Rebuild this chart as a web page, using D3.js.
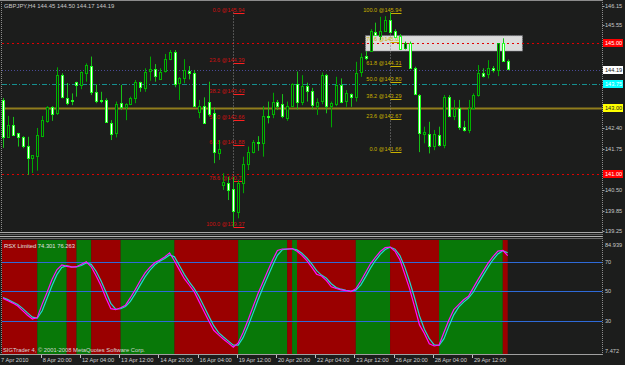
<!DOCTYPE html>
<html>
<head>
<meta charset="utf-8">
<script src="https://d3js.org/d3.v7.min.js"></script>
<style>
    body { margin: 0; background: #1c1d1c; }
    svg { display: block; font-family: "Liberation Sans", Arial, sans-serif; }
</style>
</head>
<body>
<svg id="canvas"></svg>
<script>
var w = 625
var h = 365

// ########## Data ##########

var symbol = "GBPJPY,H4";

var open = [143.26,142.13,142.49,142.24,142.11,141.85,141.47,141.54,142.15,142.59,
    143.03,142.85,144.02,143.33,143.25,143.80,143.72,144.10,144.30,143.51,
    143.27,143.26,142.56,142.24,143.16,143.05,143.13,143.31,143.80,143.65,
    144.13,144.20,143.92,144.13,144.54,144.74,143.77,143.92,144.16,144.10,
    142.89,143.07,143.21,142.85,141.62,140.65,140.72,140.52,139.83,140.72,
    141.29,141.67,141.96,141.95,142.78,142.85,143.21,143.13,142.70,143.07,
    143.75,143.21,143.69,143.54,143.10,143.21,144.02,143.07,143.13,143.72,
    143.21,143.44,143.36,144.10,144.62,144.77,145.35,145.23,145.38,145.71,
    145.38,145.22,144.84,145.02,144.23,143.41,142.24,142.21,141.85,142.18,
    141.88,143.36,142.75,143.00,142.44,142.34,143.00,143.41,144.10,144.06,
    144.25,144.16,145.00,144.45];

var high = [143.32,142.77,142.74,142.25,142.15,142.13,141.57,142.40,142.77,143.07,
    143.07,144.26,144.08,143.78,143.46,143.82,144.13,144.38,144.59,143.75,
    143.51,143.31,142.64,143.21,143.72,143.16,143.36,143.87,143.82,144.23,
    144.59,144.36,144.23,144.67,144.79,144.79,143.96,144.51,144.30,144.18,
    143.26,143.34,143.82,143.03,142.03,141.01,140.90,140.90,140.80,141.52,
    141.83,142.03,142.15,143.07,143.21,143.48,143.26,143.44,143.21,143.77,
    144.13,144.02,143.79,143.63,143.31,144.10,144.06,143.21,143.97,143.92,
    143.56,143.46,144.43,144.69,144.76,145.43,145.63,145.81,145.83,145.94,
    145.43,145.28,145.05,145.05,144.28,143.44,142.44,142.59,142.34,142.44,
    143.41,143.41,143.26,143.26,142.62,143.26,143.46,144.33,144.23,144.48,
    144.30,145.00,145.15,144.50];

var low = [141.79,142.12,142.15,141.83,141.78,140.96,141.02,141.09,142.12,142.56,
    142.62,142.80,143.31,143.10,143.10,143.36,143.59,143.82,143.41,143.16,
    143.16,142.56,142.03,142.11,142.95,142.64,143.10,143.16,143.51,143.51,
    143.85,143.82,143.87,144.10,144.48,143.65,143.26,143.77,143.89,143.05,
    142.70,142.54,142.75,141.32,141.42,140.50,140.19,139.37,139.63,140.40,
    141.11,141.62,141.70,141.52,142.54,142.70,142.95,142.70,142.62,143.04,
    142.97,143.10,143.21,142.97,142.80,143.13,142.85,142.42,143.07,143.16,
    143.05,143.05,143.21,143.97,144.48,144.74,145.22,145.10,145.35,145.32,
    145.18,144.79,144.81,144.23,143.41,141.66,141.93,141.62,141.72,141.83,
    141.78,142.73,142.64,142.34,142.29,142.24,142.95,143.36,143.95,143.92,
    144.10,143.99,144.43,144.17];

var close = [142.12,142.49,142.18,142.11,141.83,141.47,141.56,142.18,142.64,143.03,
    142.83,144.02,143.34,143.17,143.23,143.71,144.11,144.33,143.50,143.24,
    143.25,142.59,142.21,143.13,143.03,143.13,143.31,143.80,143.65,144.13,
    144.20,143.97,144.13,144.51,144.74,143.77,143.92,144.18,144.10,143.10,
    143.07,142.56,142.85,141.64,141.75,140.73,140.50,139.83,140.72,141.29,
    141.67,141.98,141.94,142.77,142.76,143.21,143.10,142.75,143.07,143.75,
    143.21,143.69,143.54,143.10,143.21,144.02,143.07,143.16,143.72,143.21,
    143.46,143.36,144.10,144.57,144.55,145.38,145.25,145.38,145.71,145.35,
    145.20,144.81,145.00,144.26,143.44,142.24,142.29,141.85,142.21,141.88,
    143.36,142.77,142.97,142.42,142.36,143.00,143.41,144.08,144.02,144.23,
    144.18,145.00,144.46,144.19];

var rsx = [45.26,43.63,42.06,40.09,36.97,33.77,31.26,32.28,41.38,49.40,
    58.10,64.69,67.95,67.00,66.46,66.80,68.50,70.13,66.73,60.61,
    53.82,45.46,38.32,37.58,38.87,40.64,45.73,51.24,57.28,62.58,
    66.46,69.65,71.28,73.39,76.24,70.67,64.62,58.64,54.36,49.88,
    43.22,36.56,29.90,23.58,20.45,17.53,14.88,12.03,14.95,22.15,
    30.44,39.41,48.18,55.92,63.67,71.21,77.80,78.82,78.82,79.10,
    77.33,74.47,70.87,66.46,61.70,60.48,57.35,53.14,51.98,51.10,
    50.49,49.88,51.71,56.94,62.85,68.77,73.18,77.12,79.78,80.12,
    77.26,71.48,61.56,51.58,39.48,27.25,21.41,14.41,12.91,13.59,
    22.22,30.58,37.62,41.05,44.30,46.68,52.59,58.37,63.80,69.24,
    73.66,77.40,77.94,74.301];

var signal = [45.8,44.4,42.8,41.1,38.5,35.4,32.5,31.8,36.8,45.4,
    53.8,61.4,66.3,67.5,66.7,66.6,67.6,69.3,68.4,63.7,
    57.2,49.6,41.9,38.0,38.2,39.8,43.2,48.5,54.3,59.9,
    64.5,68.1,70.5,72.3,74.8,73.5,67.6,61.6,56.5,52.1,
    46.6,39.9,33.2,26.7,22.0,19.0,16.2,13.5,13.5,18.6,
    26.3,34.9,43.8,52.1,59.8,67.4,74.5,78.3,78.8,79.0,
    78.2,75.9,72.7,68.7,64.1,61.1,58.9,55.2,52.6,51.5,
    50.8,50.2,50.8,54.3,59.9,65.8,71.0,75.2,78.5,80.0,
    78.7,74.4,66.5,56.6,45.5,33.4,24.3,17.9,13.7,13.3,
    17.9,26.4,34.1,39.3,42.7,45.5,49.6,55.5,61.1,66.5,
    71.5,75.5,77.7,76.263];

// first bar of each colour run in the RSX panel, runs alternate red / green
var bandStart = [0, 8, 14, 16, 19, 25, 36, 49, 59, 60, 61, 73, 80, 90, 103];

var priceTicks = [146.15, 145.55, 144.90, 144.25, 143.65, 143.00, 142.40, 141.75, 141.10, 140.50, 139.85, 139.25];
var rsxTicks = [84.939, 70, 50, 30, 7.472];
var rsxLevels = [70, 50, 30];

var timeTickBars = [0, 8, 16, 24, 32, 40, 48, 56, 64, 72, 80, 88, 96];
var timeTickLabels = ["7 Apr 2010", "8 Apr 20:00", "12 Apr 04:00", "13 Apr 12:00", "14 Apr 20:00",
    "16 Apr 04:00", "19 Apr 12:00", "20 Apr 20:00", "22 Apr 04:00", "23 Apr 12:00",
    "26 Apr 20:00", "28 Apr 04:00", "29 Apr 12:00"];

var hlinePrices = [145.00, 143.75, 143.00, 141.00];

var fibLevels = [0, 23.6, 38.2, 50, 61.8, 78.6, 100];
var fibDown = { bar: 47, hi: 145.94, lo: 139.37 };   // 0 at top
var fibUp = { bar: 79, hi: 145.94, lo: 141.66 };     // 0 at bottom

var boxBars = [74, 106];
var boxPrices = [145.23, 144.76];

// ########## SVG ##########

var svg = d3.select("#canvas")
    .attr("width", w)
    .attr("height", h);

svg.append("rect")
    .attr("width", w)
    .attr("height", h)
    .attr("fill", "#1c1d1c");

var axisX = 602.5;
var x = d3.scaleLinear().domain([0, 103]).range([3, 507.7]);
var y = d3.scaleLinear().domain([139.25, 146.15]).range([230.7, 5.7]);
var ys = d3.scaleLinear().domain([7.472, 84.939]).range([354, 240]);
var step = x(1) - x(0);
var px = function (i) { return Math.round(x(i)) + 0.5; };

svg.append("clipPath").attr("id", "mainClip")
    .append("rect").attr("x", 2).attr("y", 1).attr("width", axisX - 2).attr("height", 230);
svg.append("clipPath").attr("id", "subClip")
    .append("rect").attr("x", 2).attr("y", 240).attr("width", axisX - 2).attr("height", 114);

var main = svg.append("g").attr("clip-path", "url(#mainClip)");
var sub = svg.append("g").attr("clip-path", "url(#subClip)");

// ########## Rectangle object ##########

main.append("rect")
    .attr("x", x(boxBars[0]))
    .attr("y", y(boxPrices[0]))
    .attr("width", x(boxBars[1]) - x(boxBars[0]))
    .attr("height", y(boxPrices[1]) - y(boxPrices[0]))
    .attr("fill", "#dcdcdc")
    .attr("stroke", "#8c8c94")
    .attr("stroke-dasharray", "1,1");

// ########## Horizontal lines ##########

var hlineStyle = [
    { color: "#e00000", dash: "2,3", width: 1 },
    { color: "#159090", dash: "5,2,1,2", width: 1 },
    { color: "#8f7d1c", dash: null, width: 2 },
    { color: "#e00000", dash: "2,3", width: 1 }
];

main.selectAll(".hline")
    .data(hlinePrices).enter()
    .append("line")
    .attr("class", "hline")
    .attr("x1", 2).attr("x2", axisX)
    .attr("y1", function (d) { return Math.round(y(d)) + 0.5; })
    .attr("y2", function (d) { return Math.round(y(d)) + 0.5; })
    .attr("stroke", function (d, i) { return hlineStyle[i].color; })
    .attr("stroke-width", function (d, i) { return hlineStyle[i].width; })
    .attr("stroke-dasharray", function (d, i) { return hlineStyle[i].dash; });

// bid line
var bid = close[close.length - 1];
main.append("line")
    .attr("x1", 2).attr("x2", axisX)
    .attr("y1", Math.round(y(bid)) + 0.5).attr("y2", Math.round(y(bid)) + 0.5)
    .attr("stroke", "#4a4a96")
    .attr("stroke-dasharray", "1,2");

// ########## Fibonacci ##########

function drawFib(f, downward, lineColor, textColor) {
    var ax = px(f.bar);
    var len = 11;
    var g = main.append("g");
    g.append("line")
        .attr("x1", ax).attr("x2", ax)
        .attr("y1", y(f.hi)).attr("y2", y(f.lo))
        .attr("stroke", "#8a8a8a")
        .attr("stroke-dasharray", "1,2");
    fibLevels.forEach(function (lv) {
        var p = downward ? f.hi - lv / 100 * (f.hi - f.lo) : f.lo + lv / 100 * (f.hi - f.lo);
        var yy = Math.round(y(p)) + 0.5;
        g.append("line")
            .attr("x1", ax).attr("x2", ax + len)
            .attr("y1", yy).attr("y2", yy)
            .attr("stroke", lineColor);
        g.append("text")
            .attr("x", ax + len)
            .attr("y", yy - 1.5)
            .attr("text-anchor", "end")
            .attr("font-size", 5.6)
            .attr("fill", textColor)
            .text(lv.toFixed(1) + " @" + p.toFixed(2));
    });
}

drawFib(fibDown, true, "#ff2020", "#d01010");
drawFib(fibUp, false, "#c8b000", "#c8b000");

// ########## Candles ##########

var bars = d3.range(open.length);

main.selectAll(".wick")
    .data(bars).enter()
    .append("line")
    .attr("class", "wick")
    .attr("x1", px).attr("x2", px)
    .attr("y1", function (i) { return y(high[i]); })
    .attr("y2", function (i) { return y(low[i]); })
    .attr("stroke", function (i) { return close[i] >= open[i] ? "#00a800" : "#18c018"; });

main.selectAll(".body")
    .data(bars).enter()
    .append("rect")
    .attr("class", "body")
    .attr("x", function (i) { return px(i) - 1; })
    .attr("width", 2)
    .attr("y", function (i) { return Math.round(y(Math.max(open[i], close[i]))) + 0.5; })
    .attr("height", function (i) { return Math.max(0.01, Math.round(Math.abs(y(open[i]) - y(close[i])))); })
    .attr("fill", function (i) { return close[i] >= open[i] ? "#1c1d1c" : "#ffffff"; })
    .attr("stroke", function (i) { return close[i] >= open[i] ? "#00b400" : "#20ff20"; });

// ########## RSX panel ##########

var runs = bandStart.map(function (s, k) {
    var e = k < bandStart.length - 1 ? bandStart[k + 1] - 1 : open.length - 1;
    return { from: s, to: e, up: k % 2 == 1 };
});

sub.selectAll(".band")
    .data(runs).enter()
    .append("rect")
    .attr("class", "band")
    .attr("x", function (d) { return x(d.from) - step; })
    .attr("width", function (d) { return x(d.to) - x(d.from) + step; })
    .attr("y", 240)
    .attr("height", 114)
    .attr("fill", function (d) { return d.up ? "#087808" : "#9a0000"; });

sub.selectAll(".level")
    .data(rsxLevels).enter()
    .append("line")
    .attr("class", "level")
    .attr("x1", 2).attr("x2", axisX)
    .attr("y1", function (d) { return Math.round(ys(d)) + 0.5; })
    .attr("y2", function (d) { return Math.round(ys(d)) + 0.5; })
    .attr("stroke", "#2e6ad8");

var line = d3.line()
    .x(function (d, i) { return x(i); })
    .y(function (d) { return ys(d); });

sub.append("path").datum(signal)
    .attr("d", line).attr("fill", "none")
    .attr("stroke", "#20d8d0").attr("stroke-width", 1.2);

sub.append("path").datum(rsx)
    .attr("d", line).attr("fill", "none")
    .attr("stroke", "#ff10ff").attr("stroke-width", 1.2);

// ########## Frames ##########

var frame = svg.append("g").attr("stroke", "#8c8c8c").attr("fill", "none");
frame.append("line").attr("x1", 1.5).attr("x2", 1.5).attr("y1", 0).attr("y2", 355).attr("stroke-dasharray", "1,1");
frame.append("line").attr("x1", axisX).attr("x2", axisX).attr("y1", 0).attr("y2", 355).attr("stroke-dasharray", "1,1");
frame.append("line").attr("x1", 0).attr("x2", axisX).attr("y1", 0.5).attr("y2", 0.5);
frame.append("line").attr("x1", 0).attr("x2", axisX).attr("y1", 354.5).attr("y2", 354.5).attr("stroke", "#a0a0a0");

// splitter between the windows
[[232.5, "#a8a8a8"], [234.5, "#606060"], [236.5, "#b4b4b4"], [238.5, "#6a6a6a"]].forEach(function (s) {
    svg.append("line")
        .attr("x1", 0).attr("x2", axisX)
        .attr("y1", s[0]).attr("y2", s[0])
        .attr("stroke", s[1]);
});

// ########## Texts ##########

var last = open.length - 1;
svg.append("text")
    .attr("x", 4).attr("y", 8)
    .attr("font-size", 5.9)
    .attr("fill", "#c8c8c8")
    .text(symbol + "  " + open[last].toFixed(2) + " " + high[last].toFixed(2) + " " +
        low[last].toFixed(2) + " " + close[last].toFixed(2));

svg.append("text")
    .attr("x", 4).attr("y", 247.5)
    .attr("font-size", 5.8)
    .attr("fill", "#e0e0e0")
    .text("RSX Limited " + rsx[last].toFixed(3) + " " + signal[last].toFixed(3));

svg.append("text")
    .attr("x", 3).attr("y", 351.5)
    .attr("font-size", 5.8)
    .attr("fill", "#d8d8d8")
    .text("SIGTrader 4, \u00a9 2001-2008 MetaQuotes Software Corp.");

// ########## Price axis ##########

var tagPrices = hlinePrices.concat([bid]);
var tagColors = [["#ff0000", "#ffffff"], ["#00ffff", "#ffffff"], ["#ffff00", "#202020"], ["#ff0000", "#ffffff"], ["#ffffff", "#202020"]];

// labels hidden behind a price tag are left out
var visibleTicks = priceTicks.filter(function (t) {
    return tagPrices.every(function (p) { return Math.abs(y(t) - y(p)) > 7; });
});

svg.selectAll(".ptick")
    .data(visibleTicks).enter()
    .append("text")
    .attr("class", "ptick")
    .attr("x", 605).attr("y", function (d) { return y(d) + 2; })
    .attr("font-size", 5.6)
    .attr("fill", "#c8c8c8")
    .text(function (d) { return d.toFixed(2); });

svg.selectAll(".pmark")
    .data(priceTicks).enter()
    .append("line")
    .attr("class", "pmark")
    .attr("x1", axisX).attr("x2", axisX + 2)
    .attr("y1", function (d) { return Math.round(y(d)) + 0.5; })
    .attr("y2", function (d) { return Math.round(y(d)) + 0.5; })
    .attr("stroke", "#a0a0a0");

var tags = svg.selectAll(".tag")
    .data(tagPrices).enter()
    .append("g")
    .attr("class", "tag")
    .attr("transform", function (d) { return "translate(603," + Math.round(y(d) - 4) + ")"; });
tags.append("rect")
    .attr("width", 20).attr("height", 8)
    .attr("fill", function (d, i) { return tagColors[i][0]; });
tags.append("text")
    .attr("x", 2).attr("y", 6)
    .attr("font-size", 5.6)
    .attr("fill", function (d, i) { return tagColors[i][1]; })
    .text(function (d) { return d.toFixed(2); });

// ########## RSX axis ##########

svg.selectAll(".rtick")
    .data(rsxTicks).enter()
    .append("text")
    .attr("class", "rtick")
    .attr("x", 605)
    .attr("y", function (d, i) {
        var off = i == 0 ? 6.5 : (i == rsxTicks.length - 1 ? -1.5 : 2);
        return ys(d) + off;
    })
    .attr("font-size", 5.6)
    .attr("fill", "#c8c8c8")
    .text(function (d) { return d % 1 ? d.toFixed(3) : d; });

// ########## Time axis ##########

svg.selectAll(".tmark")
    .data(timeTickBars.slice(1)).enter()
    .append("line")
    .attr("class", "tmark")
    .attr("x1", function (d) { return Math.round(x(d) - 1.5) + 0.5; })
    .attr("x2", function (d) { return Math.round(x(d) - 1.5) + 0.5; })
    .attr("y1", 355).attr("y2", 358)
    .attr("stroke", "#c0c0c0");

svg.selectAll(".ttick")
    .data(timeTickBars).enter()
    .append("text")
    .attr("class", "ttick")
    .attr("x", function (d, i) { return i == 0 ? 1 : x(d) + 0.5; })
    .attr("y", 362)
    .attr("font-size", 5.7)
    .attr("fill", "#d0d0d0")
    .text(function (d, i) { return timeTickLabels[i]; });
</script>
</body>
</html>
